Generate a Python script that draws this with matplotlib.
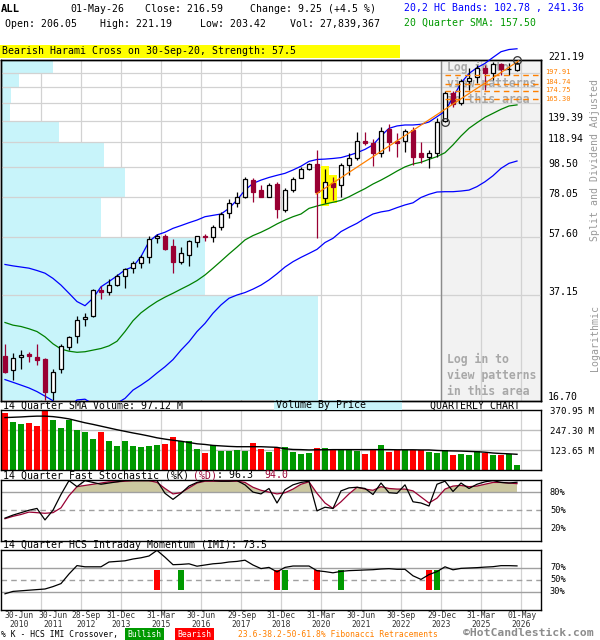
import matplotlib
matplotlib.use("Agg")
import matplotlib.pyplot as plt
import matplotlib.transforms as mtransforms
from matplotlib.patches import Rectangle
import numpy as np

plt.rcParams["font.family"] = ["DejaVu Sans Mono"]

TICKER = "ALL"
DATE = "01-May-26"

# quarterly candles, 30-Jun-2010 .. 01-May-2026 (split and dividend adjusted)
opens = [23.3, 21.0, 23.2, 23.6, 23.2, 22.8, 17.7, 21.1, 25.0, 27.2,
         30.9, 31.6, 38.6, 37.9, 39.95, 42.9, 45.5, 47.4, 49.4, 57.2,
         58.2, 53.8, 47.6, 50.2, 55.7, 58.0, 57.6, 62.1, 69.1, 74.8,
         77.9, 88.9, 82.4, 78.3, 86.3, 71.0, 82.4, 90.6, 96.6, 100.5,
         77.4, 87.2, 85.7, 99.7, 104.9, 120.0, 118.2, 109.5, 130.8, 120.0,
         120.0, 130.2, 109.5, 105.7, 109.0, 139.6, 172.1, 159.5, 189.6, 194.3,
         208.5, 201.5, 214.4, 206.9, 206.05]
highs = [25.6, 23.8, 24.4, 24.1, 25.6, 22.9, 21.2, 25.6, 27.2, 31.6,
         32.3, 38.8, 39.7, 41.8, 43.6, 45.5, 48.0, 50.4, 58.2, 59.0,
         59.0, 56.7, 53.4, 56.4, 58.3, 58.8, 63.0, 69.9, 76.8, 81.2,
         90.7, 90.1, 85.6, 86.7, 87.6, 83.5, 91.2, 98.0, 101.0, 111.7,
         96.8, 90.8, 101.0, 109.0, 128.5, 128.5, 121.2, 132.8, 136.2, 126.9,
         130.8, 133.5, 119.1, 111.8, 142.2, 174.5, 175.6, 191.4, 208.0, 213.0,
         214.0, 217.5, 217.2, 217.0, 221.19]
lows = [20.5, 19.5, 21.2, 22.3, 21.8, 16.7, 16.7, 20.5, 24.4, 25.7,
        29.2, 31.5, 35.9, 37.1, 39.6, 39.0, 43.8, 45.5, 47.5, 55.3,
        52.3, 44.0, 46.8, 46.1, 53.3, 55.9, 55.6, 60.9, 66.8, 72.6,
        77.3, 75.4, 77.9, 77.9, 66.8, 69.8, 81.4, 90.1, 96.0, 57.1,
        74.5, 76.5, 78.4, 92.4, 103.6, 116.1, 99.0, 106.3, 111.2, 105.7,
        110.4, 99.7, 101.0, 97.3, 106.3, 138.1, 154.7, 157.4, 177.0, 185.6,
        176.0, 190.0, 197.7, 197.6, 203.42]
closes = [20.7, 23.0, 23.5, 23.3, 22.7, 17.8, 20.7, 25.2, 26.9, 30.7,
          31.3, 38.6, 37.9, 39.95, 43.0, 45.2, 47.4, 49.5, 56.7, 58.2,
          52.7, 47.6, 51.0, 55.9, 58.0, 57.7, 62.1, 68.7, 74.8, 78.1,
          89.6, 81.4, 78.3, 85.6, 71.5, 82.4, 89.6, 96.8, 100.5, 81.4,
          87.9, 84.6, 99.7, 104.9, 120.0, 117.6, 109.5, 129.5, 119.1, 118.2,
          129.5, 105.7, 105.7, 109.0, 138.6, 172.9, 158.6, 189.4, 192.8, 208.1,
          201.3, 214.6, 207.5, 207.34, 216.59]
last_volume = 27839367
volume_m = [354, 299, 284, 291, 274, 371, 311, 260, 309, 247,
            235, 194, 237, 181, 150, 181, 148, 144, 150, 155,
            163, 206, 177, 179, 132, 107, 153, 120, 120, 126,
            120, 169, 132, 113, 138, 142, 111, 99, 105, 138,
            136, 132, 122, 128, 120, 99, 132, 155, 111, 122,
            122, 122, 122, 111, 107, 122, 93, 99, 93, 117,
            107, 95, 95, 101, 27.84]
vol_sma = [324, 326, 328, 331, 333, 333, 330, 324, 316, 304,
           292, 282, 271, 260, 249, 239, 229, 220, 210, 199,
           191, 184, 178, 170, 162, 158, 152, 149, 146, 144,
           144, 144, 144, 142, 140, 131, 127, 126, 124, 125,
           125, 126, 126, 126, 126, 126, 126, 126, 126, 125,
           125, 125, 124, 124, 121, 119, 118, 117, 115, 113,
           110, 105, 102, 100, 97.12]
hc_upper = [46.8, 46.3, 45.9, 45.5, 44.7, 43.8, 42.1, 40.0, 37.6, 35.3,
            34.2, 36.2, 39.5, 41.1, 42.9, 44.9, 46.0, 49.7, 55.7, 58.6,
            59.8, 61.6, 62.9, 64.3, 65.6, 67.3, 68.0, 68.7, 71.7, 76.4,
            82.4, 86.7, 88.9, 90.7, 92.2, 93.6, 96.0, 98.8, 102.5, 104.0,
            104.3, 104.8, 105.5, 107.3, 109.5, 112.3, 116.2, 124.3, 131.8, 134.2,
            135.2, 135.2, 135.9, 138.3, 144.0, 150.0, 167.0, 186.0, 200.0, 209.0,
            216.0, 226.0, 236.0, 240.0, 241.36]
hc_mid = [30.1, 29.5, 29.2, 28.7, 28.1, 27.0, 25.6, 24.6, 24.2, 24.0,
          24.1, 24.4, 24.7, 25.2, 26.1, 28.1, 30.5, 32.4, 33.9, 35.3,
          36.5, 37.6, 38.8, 40.0, 41.4, 43.2, 45.5, 48.0, 50.7, 53.4,
          56.4, 58.3, 59.8, 61.6, 63.7, 65.6, 67.3, 68.7, 71.7, 73.0,
          74.1, 75.1, 76.2, 78.3, 80.8, 83.3, 86.3, 88.9, 91.9, 95.2,
          98.3, 100.5, 101.8, 104.1, 106.3, 109.5, 116.2, 124.3, 131.8, 137.6,
          143.3, 147.7, 152.3, 156.2, 157.50]
hc_lower = [19.5, 19.1, 18.7, 18.3, 17.8, 17.2, 16.6, 15.5, 15.8, 16.7,
            16.8, 16.2, 15.6, 15.8, 16.3, 16.9, 18.0, 18.7, 19.5, 20.5,
            21.5, 22.7, 24.4, 26.0, 28.1, 29.9, 32.3, 34.4, 36.2, 37.1,
            37.8, 38.8, 40.0, 41.6, 43.6, 45.9, 47.8, 49.4, 50.9, 52.5,
            55.3, 57.1, 60.1, 62.1, 64.0, 66.5, 68.7, 69.8, 70.5, 72.1,
            73.6, 74.8, 77.9, 79.8, 81.2, 81.4, 81.4, 81.8, 82.4, 84.6,
            87.8, 91.9, 97.2, 101.0, 102.78]
pct_k = [37, 42, 46, 50, 53, 34, 50, 76, 99, 89,
         99, 96, 93, 95, 97, 99, 99, 99, 99, 99,
         78, 68, 78, 90, 96, 99, 99, 98, 98, 99,
         92, 80, 77, 86, 62, 84, 92, 96, 98, 49,
         55, 53, 82, 87, 88, 86, 76, 95, 79, 78,
         92, 64, 62, 57, 93, 98, 81, 95, 86, 93,
         97, 99, 96, 95, 96.3]
pct_d = [36, 40, 43, 47, 46, 45, 46, 54, 74, 89,
         91, 93, 95, 97, 97, 98, 99, 99, 99, 96,
         86, 77, 79, 87, 95, 98, 98, 98, 98, 98,
         96, 88, 83, 80, 77, 79, 85, 93, 97, 78,
         62, 53, 64, 77, 88, 85, 83, 89, 86, 85,
         85, 82, 72, 62, 70, 85, 90, 91, 89, 90,
         93, 96, 96, 95, 94.0]
imi = [27, 31, 32, 33, 34, 35, 39, 44, 60, 74,
       72, 72, 72, 80, 81, 82, 85, 87, 90, 99.4,
       88, 75.5, 76, 77, 73, 75, 77, 78, 80, 81,
       83, 75, 69, 71, 63.5, 71, 73.3, 73.3, 73.3, 65.5,
       64, 62, 64.4, 65.6, 66.1, 66.7, 67.2, 68.3, 68.9, 67.8,
       67.8, 57, 51, 59, 64, 72, 67, 69.4, 70, 70.6,
       71.5, 72.2, 73.9, 73.9, 73.5]
bull_q = [22, 35, 42, 54]
bear_q = [19, 34, 39, 53]

pattern_q = [40, 41]
pattern_text = "Bearish Harami Cross on 30-Sep-20, Strength: 57.5"
trend_q = [38.9, 64.2]
trend_px = [80.0, 220.0]
fib_levels = [197.91, 184.74, 174.75, 165.30]
fib_anchor_q = [55, 64]
fib_anchor_px = [138.1, 221.19]

price_grid = [16.70, 37.15, 57.60, 78.05, 98.50, 118.94, 139.39,
              159.84, 180.29, 200.73, 221.19]
price_labels = [16.70, 37.15, 57.60, 78.05, 98.50, 118.94, 139.39, 221.19]
vbp_volume = [318, 205, 101, 125, 104, 59, 10, 11, 19, 53]
vol_grid = [123.65, 247.30, 370.95]
stoch_grid = [80, 50, 20]
imi_grid = [70, 50, 30]

tick_q = [0, 4, 9, 14, 19, 24, 29, 34, 39, 44, 49, 54, 59, 64]
tick_labels = ["30-Jun\n2010", "30-Jun\n2011", "28-Sep\n2012", "31-Dec\n2013",
               "31-Mar\n2015", "30-Jun\n2016", "29-Sep\n2017", "31-Dec\n2018",
               "31-Mar\n2020", "30-Jun\n2021", "30-Sep\n2022", "29-Dec\n2023",
               "31-Mar\n2025", "01-May\n2026"]

RED_C = "#990033"
GREEN = "#009900"
RED = "#ff0000"
GRID = "#d2d2d2"
MIDGRAY = "#a0a0a0"
ORANGE = "#ff8000"
CYAN = "#c8f4fa"

W, H = 600, 640
fig = plt.figure(figsize=(W / 100, H / 100), dpi=100)


def box(top, bottom):
    return [0.5 / W, 1 - bottom / H, 540.5 / W, (bottom - top) / H]


def shift(dx=0, dy=0):
    # screen-pixel offset, dy positive = down
    return mtransforms.ScaledTranslation(dx / 100, -dy / 100, fig.dpi_scale_trans)


def ftext(x, y, s, **kw):
    kw.setdefault("fontsize", 7.1)
    kw.setdefault("va", "center")
    return fig.text(x / W, 1 - y / H, s, **kw)


def clean(a):
    a.tick_params(which="both", left=False, right=False, top=False, bottom=False,
                  labelleft=False, labelbottom=False)
    for s in a.spines.values():
        s.set_color("black")
        s.set_linewidth(1.0)


X0, X1 = -0.56, 67.0
q = np.arange(len(closes))
grid_x = np.array(tick_q[1:]) + 0.46
login_x = grid_x[tick_q[1:].index(54)]

o, h, l, c = map(np.array, (opens, highs, lows, closes))
up = c >= o

# ---- main price panel ----
bg = fig.add_axes(box(60, 401), zorder=0)
ax = fig.add_axes(box(60, 401), zorder=1)
ax.patch.set_visible(False)
for a in (bg, ax):
    a.set_yscale("log")
    a.set_ylim(16.57, 221.6)
    a.set_xlim(X0, X1)
    clean(a)
bg.axvspan(login_x, X1, color="#f2f2f2", lw=0, zorder=0)
for gx in grid_x:
    bg.axvline(gx, color=GRID, lw=0.9, zorder=0.5)
vbp_scale = (X1 - X0) * 0.588 / max(vbp_volume)
bg.barh(price_grid[:-1], np.array(vbp_volume) * vbp_scale, left=X0,
        height=np.diff(price_grid), align="edge", color=CYAN, lw=0, zorder=1)

for lv in price_grid[1:-1]:
    ax.axhline(lv, color=GRID, lw=0.9, zorder=1)
ax.axvline(login_x, color="#8c8c8c", lw=1.0, zorder=1.5)

login_kw = dict(fontsize=8.3, fontweight="bold", color="#a8a8a8", linespacing=1.3,
                va="top", ha="left", transform=ax.get_xaxis_transform(), zorder=2.7)
ax.text(55.3, 0.997, "Log in to\nview patterns\nin this area", **login_kw)
ax.text(55.3, 0.141, "Log in to\nview patterns\nin this area", **login_kw)

for pq in pattern_q:
    ax.bar(pq, h[pq] * 1.02 - l[pq] * 0.98, bottom=l[pq] * 0.98, width=1.1,
           color="#ffff00", lw=0, zorder=2.5)

ax.plot(q, hc_upper, color="#0000ff", lw=0.9, zorder=3, clip_on=False)
ax.plot(q, hc_mid, color="#008000", lw=0.9, zorder=3)
ax.plot(q, hc_lower, color="#0000ff", lw=0.9, zorder=3)

edge = np.where(up, "black", RED_C)
face = np.where(up, "white", RED_C)
ax.vlines(q, l, h, colors=edge, lw=0.9, zorder=4)
ax.bar(q, np.abs(c - o), bottom=np.minimum(o, c), width=0.62,
       color=face, edgecolor=edge, lw=0.9, zorder=5)

ax.plot(trend_q, trend_px, color=ORANGE, lw=0.9, zorder=6)
ax.hlines(fib_levels, fib_anchor_q[0], X1, colors=ORANGE, lw=1.0,
          linestyles=(0, (4, 3)), zorder=6)
ax.plot(fib_anchor_q, fib_anchor_px, "o", mfc="none", mec="#333333", ms=5.5,
        mew=0.9, zorder=7, clip_on=False)

ytr = ax.get_yaxis_transform()
for lv in price_labels:
    ax.text(1.0129, lv, f"{lv:.2f}", transform=ytr + shift(0, -3), va="center",
            ha="left", fontsize=7.1)
# fib labels are crowded: spread them a little, as the reference does
for lv, dy in zip(fib_levels, [-3, -1.8, -1, 0.6]):
    ax.text(1.0074, lv, f"{lv:.2f}", transform=ytr + shift(0, dy), va="center",
            ha="left", fontsize=5.0, color=ORANGE)

ftext(595, 160, "Split and Dividend Adjusted", rotation=90, ha="center", color="#999999")
ftext(595, 338, "Logarithmic", rotation=90, ha="center", color="#999999")

# ---- volume panel ----
axv = fig.add_axes(box(410, 470))
axv.set_xlim(X0, X1)
axv.set_ylim(0, vol_grid[-1])
clean(axv)
for gx in grid_x:
    axv.axvline(gx, color=GRID, lw=0.9, zorder=0.5)
for v in vol_grid[:-1]:
    axv.axhline(v, color="#bdbdbd", lw=1.0, zorder=1)
axv.bar(q, volume_m, width=0.72, color=np.where(up, GREEN, RED), lw=0, zorder=2)
axv.plot(q, vol_sma, color="black", lw=1.0, zorder=3)
for v in vol_grid:
    axv.text(1.0166, v, f"{v:.2f} M", transform=axv.get_yaxis_transform() + shift(0, 1.7),
             va="center", ha="left", fontsize=6.6)

fig.add_artist(Rectangle((273.6 / W, 1 - 409.5 / H), 128 / W, 9.5 / H,
                         transform=fig.transFigure, color=CYAN, lw=0))
ftext(3, 405.5, f"14 Quarter SMA Volume: {vol_sma[-1]:.2f} M")
ftext(275.5, 405.5, "Volume By Price")
ftext(430.5, 405.5, "QUARTERLY CHART")

# ---- stochastic panel ----
axs = fig.add_axes(box(480, 540.5))
axs.set_xlim(X0, X1)
axs.set_ylim(0, 100)
clean(axs)
for gx in grid_x:
    axs.axvline(gx, color=GRID, lw=0.9, zorder=0.5)
kd = np.array(pct_d)
axs.fill_between(q, 80, kd, where=kd >= 80, interpolate=True, color="#ccc8a0", lw=0, zorder=1)
for v in stoch_grid:
    axs.axhline(v, color=MIDGRAY, lw=1.0, zorder=1.5,
                linestyle=(0, (4, 3)) if v == 50 else "-")
axs.plot(q, pct_d, color=RED_C, lw=0.9, zorder=3)
axs.plot(q, pct_k, color="black", lw=0.9, zorder=4)
for v in stoch_grid:
    axs.text(1.0166, v, f"{v}%", transform=axs.get_yaxis_transform(), va="center",
             ha="left", fontsize=6.2)

CW = 5.94
parts = [("14 Quarter Fast Stochastic (%K) ", "black"), ("(%D)", RED_C),
         (f": {pct_k[-1]:.1f}  ", "black"), (f"{pct_d[-1]:.1f}", RED_C)]
xx = 3
for s, col in parts:
    ftext(xx, 475.5, s, color=col)
    xx += len(s) * CW

# ---- IMI panel ----
axi = fig.add_axes(box(550, 610))
axi.set_xlim(X0, X1)
axi.set_ylim(0, 100)
clean(axi)
for gx in grid_x:
    axi.axvline(gx, color=GRID, lw=0.9, zorder=0.5)
for v in imi_grid:
    axi.axhline(v, color=MIDGRAY, lw=1.0, zorder=1.5,
                linestyle=(0, (4, 3)) if v == 50 else "-")
axi.bar(bull_q, 34, bottom=33, width=0.75, color=GREEN, lw=0, zorder=2)
axi.bar(bear_q, 34, bottom=33, width=0.75, color=RED, lw=0, zorder=2)
axi.plot(q, imi, color="black", lw=0.9, zorder=3)
for v in imi_grid:
    axi.text(1.0166, v, f"{v}%", transform=axi.get_yaxis_transform(), va="center",
             ha="left", fontsize=6.2)
ftext(3, 545.5, f"14 Quarter HCS Intraday Momentum (IMI): {imi[-1]:.1f}")

# date labels, pushed right where they would collide
xtr = axi.get_xaxis_transform() + shift(0, 1.5)
lab_w = 3.7   # label width in quarters
prev_right = X0
for i, (tq, lab) in enumerate(zip(tick_q, tick_labels)):
    centre = X0 + lab_w / 2 if i == 0 else tq + 0.58
    centre = max(centre, prev_right + 0.5 + lab_w / 2)
    prev_right = centre + lab_w / 2
    axi.text(centre, 0, lab, transform=xtr, ha="center", va="top", fontsize=5.8,
             color="#333333", linespacing=0.98, multialignment="center")

# ---- header ----
chg = closes[-1] - closes[-2]
ftext(1, 9.5, TICKER, fontweight="bold", fontsize=7.6)
ftext(70, 9.5, DATE)
ftext(144.7, 9.5, f"Close: {closes[-1]:.2f}")
ftext(249.5, 9.5, f"Change: {chg:.2f} (+{chg / closes[-2] * 100:.1f} %)")
ftext(4.6, 24, f"Open: {opens[-1]:.2f}")
ftext(99.5, 24, f"High: {highs[-1]:.2f}")
ftext(199.8, 24, f"Low: {lows[-1]:.2f}")
ftext(289.7, 24, f"Vol: {last_volume:,}")
ftext(404.5, 7.5, f"20,2 HC Bands: {hc_lower[-1]:.2f} , {hc_upper[-1]:.2f}", color="#0000ff")
ftext(404.5, 23, f"20 Quarter SMA: {hc_mid[-1]:.2f}", color=GREEN)

fig.add_artist(Rectangle((0, 1 - 57.5 / H), 400 / W, 12 / H,
                         transform=fig.transFigure, color="#ffff00", lw=0))
ftext(2, 51.5, pattern_text)

# ---- footer legend ----
ftext(1, 634.5, "% K - HCS IMI Crossover,", fontsize=5.8)
ftext(127.5, 634.5, "Bullish", fontsize=5.8, color="white",
      bbox=dict(boxstyle="square,pad=0.25", fc=GREEN, ec="none"))
ftext(177.5, 634.5, "Bearish", fontsize=5.8, color="white",
      bbox=dict(boxstyle="square,pad=0.25", fc=RED, ec="none"))
ftext(238, 634.5, "23.6-38.2-50-61.8% Fibonacci Retracements", fontsize=5.8, color=ORANGE)
ftext(463, 633.3, "\u00a9HotCandlestick.com", fontsize=8.2, fontweight="bold", color="#8c8c8c")

fig.savefig("out.png", dpi=100)
